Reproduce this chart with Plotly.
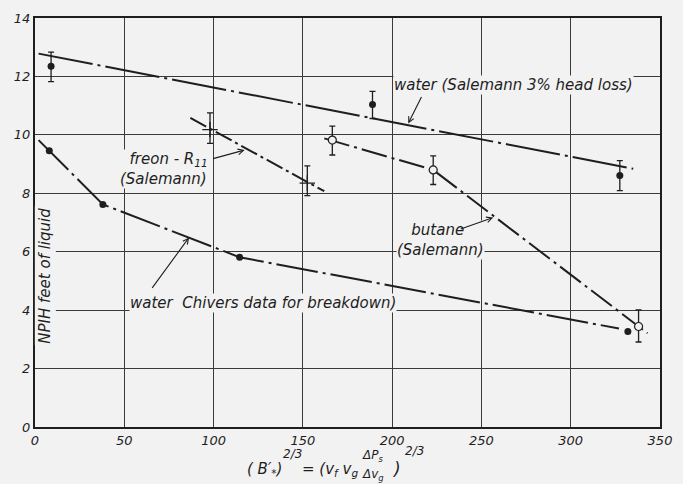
import plotly.graph_objects as go

BG = "#f2f2f2"
INK = "#1e1e1e"

# ---- data ----
# water (Salemann 3% head loss): points with error bars
ws_x = [9, 189, 327.5]
ws_y = [12.35, 11.04, 8.61]
ws_hi = [12.83, 11.49, 9.12]
ws_lo = [11.82, 10.56, 8.09]
ws_line_x = [2, 335]
ws_line_y = [12.78, 8.84]

# freon - R11 (Salemann)
fr_x = [98, 152.5]
fr_y = [10.18, 8.35]
fr_hi = [10.75, 8.94]
fr_lo = [9.71, 7.92]
fr_line_x = [87, 162]
fr_line_y = [10.58, 8.07]

# butane (Salemann)
bu_x = [166.5, 223, 338]
bu_y = [9.82, 8.80, 3.44]
bu_hi = [10.30, 9.28, 4.01]
bu_lo = [9.31, 8.30, 2.91]
bu_line_x = [162, 223, 343]
bu_line_y = [9.88, 8.80, 3.21]

# water Chivers data for breakdown
ch_x = [8, 38, 114.6, 332]
ch_y = [9.46, 7.62, 5.81, 3.27]
ch_line_x = [2, 38, 114.6, 327]
ch_line_y = [9.82, 7.62, 5.81, 3.37]

x_ticks = [0, 50, 100, 150, 200, 250, 300, 350]
y_ticks = [0, 2, 4, 6, 8, 10, 12, 14]

fig = go.Figure()

def line(xs, ys, dash):
    fig.add_trace(go.Scatter(x=xs, y=ys, mode="lines",
                             line=dict(color=INK, width=2, dash=dash),
                             hoverinfo="skip", showlegend=False))

def errs(y, hi, lo):
    return dict(type="data", symmetric=False,
                array=[h - v for h, v in zip(hi, y)],
                arrayminus=[v - l for v, l in zip(y, lo)],
                color=INK, thickness=1.3, width=3)

line(ws_line_x, ws_line_y, "55px,5px,3px,5px")
line(fr_line_x, fr_line_y, "18px,4px,3px,4px")
line(bu_line_x, bu_line_y, "26px,5px,3px,5px")
line(ch_line_x, ch_line_y, "42px,5px,3px,5px")

fig.add_trace(go.Scatter(x=ws_x, y=ws_y, mode="markers",
                         marker=dict(symbol="circle", size=7, color=INK),
                         error_y=errs(ws_y, ws_hi, ws_lo), showlegend=False))
fig.add_trace(go.Scatter(x=fr_x, y=fr_y, mode="markers",
                         marker=dict(symbol="cross-thin", size=11,
                                     line=dict(color=INK, width=1.3)),
                         error_y=errs(fr_y, fr_hi, fr_lo), showlegend=False))
fig.add_trace(go.Scatter(x=bu_x, y=bu_y, mode="markers",
                         marker=dict(symbol="circle", size=8, color=BG,
                                     line=dict(color=INK, width=1.2)),
                         error_y=errs(bu_y, bu_hi, bu_lo), showlegend=False))
fig.add_trace(go.Scatter(x=ch_x, y=ch_y, mode="markers",
                         marker=dict(symbol="circle", size=7, color=INK),
                         showlegend=False))

FONT = "DejaVu Sans"
tfont = dict(family=FONT, size=15, color=INK, style="italic")

def label(text, x, y):
    fig.add_annotation(x=x, y=y, xref="x", yref="y", text=text, showarrow=False,
                       xanchor="left", yanchor="middle", font=tfont, align="left",
                       bgcolor=BG, borderpad=0)

def arrow(x, y, ax, ay):
    fig.add_annotation(x=x, y=y, xref="x", yref="y", text="", showarrow=True,
                       ax=ax, ay=ay, arrowhead=5, arrowsize=1.0, arrowwidth=1.1,
                       arrowcolor=INK)

label("water (Salemann 3% head loss)", 200.7, 11.71)
arrow(209, 10.39, 14, -28)
label("&nbsp;&nbsp;freon - R<sub>11</sub><br>(Salemann)", 46.9, 8.84)
arrow(117.4, 9.48, -33, 9)
label("&nbsp;&nbsp;&nbsp;butane<br>(Salemann)", 202.3, 6.4)
arrow(256.6, 7.17, -34, 12)
label("water  Chivers data for breakdown)", 52.4, 4.26)
arrow(86.3, 6.49, -38, 52)

# y-axis title inside the plot
fig.add_annotation(x=0.016, y=0.37, xref="paper", yref="paper",
                   text="NPIH feet of liquid", showarrow=False, textangle=-90,
                   xanchor="center", yanchor="middle", font=tfont,
                   bgcolor=BG, borderpad=1)

# x-axis title: (B'*)^(2/3) = (v_f v_g ΔP_s/Δv_g)^(2/3)
def xt(text, x, y, size=15, anchor="left"):
    fig.add_annotation(x=x, y=y, xref="x", yref="paper", text=text, showarrow=False,
                       xanchor=anchor, yanchor="middle",
                       font=dict(family=FONT, size=size, color=INK, style="italic"))

xt("( B′<sub>*</sub>)", 117.5, -0.103)
xt("2/3", 137.5, -0.067, size=12)
xt("= (v<sub>f</sub> v<sub>g</sub>", 148.5, -0.103, size=15)
xt("ΔP<sub>s</sub>", 189, -0.072, size=12, anchor="center")
xt("Δv<sub>g</sub>", 189.5, -0.117, size=12, anchor="center")
xt(")", 199, -0.103, size=17)
xt("2/3", 206, -0.058, size=12)

axis_common = dict(showgrid=True, gridcolor="#3a3a3a", gridwidth=1,
                   showline=True, linecolor=INK, linewidth=2, mirror=True,
                   zeroline=False, ticks="",
                   tickfont=dict(family=FONT, size=13, color=INK, style="italic"))

fig.update_xaxes(range=[0, 350], tickvals=x_ticks, **axis_common)
fig.update_yaxes(range=[0, 14], tickvals=y_ticks, **axis_common)

fig.update_layout(width=683, height=484,
                  margin=dict(l=35, r=11, t=13, b=57),
                  paper_bgcolor=BG, plot_bgcolor=BG, showlegend=False)

fig.write_html("out.html", config={"displayModeBar": False},
               post_script="document.body.style.margin='0px';document.body.style.overflow='hidden';")
